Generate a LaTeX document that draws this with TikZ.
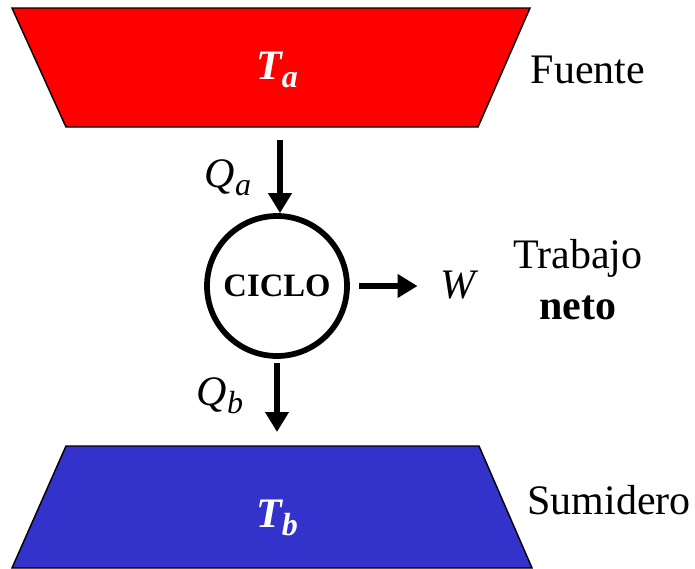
\documentclass[tikz,border=0pt]{standalone}
\usepackage{fontspec}
\setmainfont{Liberation Serif}
\usetikzlibrary{arrows.meta,positioning,calc}
\definecolor{fuentered}{HTML}{FF0000}
\definecolor{sumideroblue}{HTML}{3333CC}
\newcommand{\subidx}[2]{#1\raisebox{-0.2em}{\fontsize{24}{24}\selectfont #2}}

\begin{document}
\begin{tikzpicture}[
  x=0.75pt, y=-0.75pt,
  reservoir/.style={draw=black, line width=1.1pt},
  tag/.style={font=\fontsize{31.5}{36}\selectfont, inner sep=0pt},
  heat/.style={line width=5pt, -{Triangle[length=15pt,width=17pt]}},
  cyclenode/.style={circle, draw, line width=4.3pt, minimum size=105pt,
                    inner sep=0pt, font=\bfseries\fontsize{24.5}{28}\selectfont},
]
  \useasboundingbox (0,0) rectangle (695,568);

  % Hot and cold reservoirs.
  \draw[reservoir, fill=fuentered] (12,8) -- (530,8) -- (478,127) -- (66,127) -- cycle;
  \draw[reservoir, fill=sumideroblue] (66,446) -- (479,446) -- (532,568) -- (12,568) -- cycle;

  \node[tag, text=white] (ta) at (277,70) {\bfseries\itshape \subidx{T}{a}};
  \node[tag, text=white] (tb) at (277,518) {\bfseries\itshape \subidx{T}{b}};
  \node[tag] (fuente) at (588,70) {Fuente};
  \node[tag] (sumidero) at (609,500) {Sumidero};

  % The cycle and its flows.
  \node[cyclenode] (ciclo) at (277,286) {CICLO};
  \node[tag] (w) at (458,285) {\itshape W};
  \node[tag] (trabajo) at (578,258) {Trabajo};
  \node[tag, font=\bfseries\fontsize{31.5}{36}\selectfont] (neto) at (578,308) {neto};

  \coordinate (qa-start) at (280,140);
  \coordinate (qb-end)   at (277,432);

  \draw[heat] (qa-start) -- (qa-start |- ciclo.north);
  \draw[heat] ([yshift=-3pt]ciclo.south) -- (qb-end);
  \draw[heat, shorten <=7pt, shorten >=17pt] (ciclo.east) -- (w.west |- ciclo.east);

  \node[tag] (qa) at (228,178) {\itshape \subidx{Q}{a}};
  \node[tag] (qb) at (220,396) {\itshape \subidx{Q}{b}};
\end{tikzpicture}
\end{document}
